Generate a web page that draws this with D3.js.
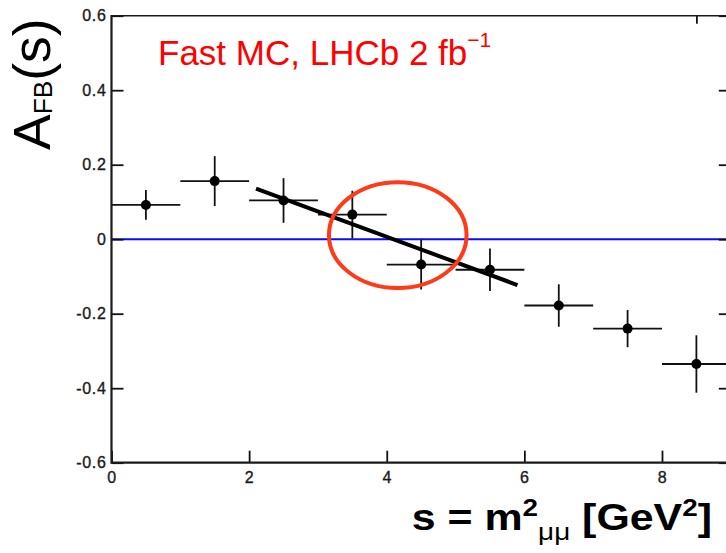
<!DOCTYPE html>
<html>
<head>
<meta charset="utf-8">
<title>AFB(s) fast MC</title>
<script src="https://cdn.jsdelivr.net/npm/d3@7"></script>
<style>
	html, body {
		margin: 0;
		padding: 0;
		background: #fff;
	}
	svg {
		display: block;
		font-family: "Liberation Sans", Arial, Helvetica, sans-serif;
	}
	.tick text {
		font-size: 16px;
		fill: #1a1a1a;
		stroke: #1a1a1a;
		stroke-width: 0.35px;
		letter-spacing: 0.7px;
	}
	.tick line {
		stroke: #111;
		stroke-width: 1.8;
	}
</style>
</head>
<body>
<svg id="chart"></svg>
<script>
// data
const binCenters = [0.5, 1.5, 2.5, 3.5, 4.5, 5.5, 6.5, 7.5, 8.5];
const binHalfWidths = [0.5, 0.5, 0.5, 0.5, 0.5, 0.5, 0.5, 0.5, 0.5];
const afbValues = [0.092, 0.156, 0.104, 0.066, -0.068, -0.082, -0.178, -0.24, -0.335];
const afbErrors = [0.04, 0.067, 0.06, 0.064, 0.067, 0.057, 0.057, 0.05, 0.077];

// straight line fit through the points around the zero crossing
const fitX = [2.1, 5.9];
const fitY = [0.136, -0.123];

// ellipse round the zero crossing: centre and half axes in data units
const zeroMarkX = 4.16;
const zeroMarkY = 0.011;
const zeroMarkRx = 1.0;
const zeroMarkRy = 0.142;

const xMajorTicks = [0, 2, 4, 6, 8];
const xMinorTicks = d3.range(0, 9.01, 0.5);
const yMajorTicks = [-0.6, -0.4, -0.2, 0, 0.2, 0.4, 0.6];
const yMinorTicks = d3.range(-0.6, 0.601, 0.05).map((v) => +v.toFixed(2));


class AfbChart {

	/**
	* constructor function
	* @param {string} chartSelector The selector for the svg-element
	* @param {object} options overrides of the defaults
	* @returns {undefined}
	*/
	constructor(chartSelector, options) {
		let defaults = {
			width: 726,
			height: 553,
			plot: {
				left: 111.5,
				right: 730.8,// frame runs just past the window edge
				top: 15.7,
				bottom: 462.7
			},
			xDomain: [0, 9],
			yDomain: [-0.6, 0.6],
			markerRadius: 5
		};

		this.settings = Object.assign({}, defaults, options);
		this.chart = d3.select(chartSelector);

		this.createChart();
	}


	/**
	* set size of the svg
	* @returns {undefined}
	*/
	_initChart() {
		this.chart.attr('width', this.settings.width)
			.attr('height', this.settings.height);
	};


	/**
	* create the scales
	* @returns {undefined}
	*/
	_createScales() {
		let p = this.settings.plot;

		this.x = d3.scaleLinear()
			.domain(this.settings.xDomain)
			.range([p.left, p.right]);

		this.y = d3.scaleLinear()
			.domain(this.settings.yDomain)
			.range([p.bottom, p.top]);
	};


	/**
	* frame, ticks and tick labels (ticks point inwards, root style)
	* @returns {undefined}
	*/
	_createAxes() {
		let p = this.settings.plot,
			x = this.x,
			y = this.y;

		let yFormat = (d) => d === 0 ? '0' : String(+d.toFixed(1));

		// left axis
		let left = this.chart.append('g')
			.attr('class', 'axis axis--y')
			.attr('transform', 'translate(' + p.left + ',0)');
		left.call(d3.axisLeft(y).tickValues(yMinorTicks).tickSize(-6).tickFormat(''));
		left.call(d3.axisLeft(y).tickValues(yMajorTicks).tickSize(-12).tickPadding(5).tickFormat(yFormat));
		left.selectAll('.domain').remove();

		// right axis, mirrored ticks without labels
		let right = this.chart.append('g')
			.attr('class', 'axis axis--y2')
			.attr('transform', 'translate(' + p.right + ',0)');
		right.call(d3.axisRight(y).tickValues(yMinorTicks).tickSize(-6).tickFormat(''));
		right.call(d3.axisRight(y).tickValues(yMajorTicks).tickSize(-12).tickFormat(''));
		right.selectAll('.domain').remove();

		// bottom axis
		let bottom = this.chart.append('g')
			.attr('class', 'axis axis--x')
			.attr('transform', 'translate(0,' + p.bottom + ')');
		bottom.call(d3.axisBottom(x).tickValues(xMinorTicks).tickSize(-6).tickFormat(''));
		bottom.call(d3.axisBottom(x).tickValues(xMajorTicks).tickSize(-12).tickPadding(9).tickFormat(d3.format('d')));
		bottom.selectAll('.domain').remove();

		// top axis: short ticks only, one long one at 8.5
		let top = this.chart.append('g')
			.attr('class', 'axis axis--x2')
			.attr('transform', 'translate(0,' + p.top + ')');
		top.call(d3.axisTop(x).tickValues(xMinorTicks).tickSize(-3).tickFormat(''));
		top.call(d3.axisTop(x).tickValues([8.5]).tickSize(-8).tickFormat(''));
		top.selectAll('.domain').remove();

		// frame
		let frame = this.chart.append('g').attr('class', 'frame')
			.attr('stroke', '#1a1a1a')
			.attr('fill', 'none');
		frame.append('line')
			.attr('x1', p.left).attr('x2', p.left)
			.attr('y1', p.top - 0.7).attr('y2', p.bottom + 1)
			.attr('stroke-width', 2.2);
		frame.append('line')
			.attr('x1', p.left).attr('x2', p.right)
			.attr('y1', p.bottom).attr('y2', p.bottom)
			.attr('stroke-width', 2.2);
		frame.append('line')
			.attr('x1', p.left).attr('x2', p.right)
			.attr('y1', p.top).attr('y2', p.top)
			.attr('stroke-width', 1.6);
		frame.append('line')
			.attr('x1', p.right).attr('x2', p.right)
			.attr('y1', p.top).attr('y2', p.bottom)
			.attr('stroke-width', 2);
	};


	/**
	* blue zero line
	* @returns {undefined}
	*/
	_addZeroLine() {
		this.chart.append('line')
			.attr('class', 'zero-line')
			.attr('x1', this.x(this.settings.xDomain[0]))
			.attr('x2', this.x(this.settings.xDomain[1]))
			.attr('y1', this.y(0))
			.attr('y2', this.y(0))
			.attr('stroke', '#0a0aff')
			.attr('stroke-width', 2);
	};


	/**
	* points with error bars
	* @returns {undefined}
	*/
	_addPoints() {
		let x = this.x,
			y = this.y;

		let points = binCenters.map((c, i) => {
			return {x: c, dx: binHalfWidths[i], y: afbValues[i], dy: afbErrors[i]};
		});

		let eachPoint = this.chart.append('g')
			.attr('class', 'points')
			.selectAll('.point')
			.data(points)
			.enter()
			.append('g')
			.attr('class', 'point');

		eachPoint.append('line')
			.attr('x1', (d) => x(d.x - d.dx))
			.attr('x2', (d) => x(d.x + d.dx))
			.attr('y1', (d) => y(d.y))
			.attr('y2', (d) => y(d.y))
			.attr('stroke', '#111')
			.attr('stroke-width', 1.8);

		eachPoint.append('line')
			.attr('x1', (d) => x(d.x))
			.attr('x2', (d) => x(d.x))
			.attr('y1', (d) => y(d.y - d.dy))
			.attr('y2', (d) => y(d.y + d.dy))
			.attr('stroke', '#111')
			.attr('stroke-width', 1.8);

		eachPoint.append('circle')
			.attr('cx', (d) => x(d.x))
			.attr('cy', (d) => y(d.y))
			.attr('r', this.settings.markerRadius)
			.attr('fill', '#000');
	};


	/**
	* thick fit line
	* @returns {undefined}
	*/
	_addFit() {
		let line = d3.line()
			.x((d) => this.x(d[0]))
			.y((d) => this.y(d[1]));

		this.chart.append('path')
			.attr('class', 'fit')
			.datum(d3.zip(fitX, fitY))
			.attr('d', line)
			.attr('fill', 'none')
			.attr('stroke', '#000')
			.attr('stroke-width', 4);
	};


	/**
	* red ellipse round the zero crossing
	* @returns {undefined}
	*/
	_addZeroMark() {
		let x = this.x,
			y = this.y;

		this.chart.append('ellipse')
			.attr('class', 'zero-mark')
			.attr('cx', x(zeroMarkX))
			.attr('cy', y(zeroMarkY))
			.attr('rx', x(zeroMarkX + zeroMarkRx) - x(zeroMarkX))
			.attr('ry', y(zeroMarkY) - y(zeroMarkY + zeroMarkRy))
			.attr('fill', 'none')
			.attr('stroke', '#ff3a17')
			.attr('stroke-width', 4);
	};


	/**
	* axis titles and the sample label
	* @returns {undefined}
	*/
	_addLabels() {
		// sample label
		let label = this.chart.append('text')
			.attr('x', 158)
			.attr('y', 65)
			.attr('fill', '#ff0000')
			.style('font-size', '35px')
			.text('Fast MC, LHCb 2 fb');
		label.append('tspan')
			.attr('dy', -18)
			.style('font-size', '21px')
			.text('\u22121');

		// y title
		let yTitle = this.chart.append('text')
			.attr('transform', 'translate(50,150) rotate(-90) scale(1.05,1)')
			.attr('fill', '#000')
			.style('font-size', '51px')
			.text('A');
		yTitle.append('tspan')
			.attr('dy', 2)
			.style('font-size', '25px')
			.text('FB');
		yTitle.append('tspan')
			.attr('dy', -2)
			.text('(s)');

		// x title
		let xTitle = this.chart.append('text')
			.attr('transform', 'translate(712,530) scale(1.16,1)')
			.attr('text-anchor', 'end')
			.attr('fill', '#000')
			.style('font-size', '37px')
			.style('font-weight', 'bold')
			.text('s = m');
		xTitle.append('tspan')
			.attr('dy', -14)
			.style('font-size', '24px')
			.text('2');
		xTitle.append('tspan')
			.attr('dy', 24)
			.style('font-size', '24px')
			.style('font-weight', 'normal')
			.text('\u03bc\u03bc');
		xTitle.append('tspan')
			.attr('dy', -10)
			.text(' [GeV');
		xTitle.append('tspan')
			.attr('dy', -14)
			.style('font-size', '24px')
			.text('2');
		xTitle.append('tspan')
			.attr('dy', 14)
			.text(']');
	};


	/**
	* create the chart
	* @returns {undefined}
	*/
	createChart() {
		this._initChart();
		this._createScales();
		this._addZeroLine();
		this._createAxes();
		this._addPoints();
		this._addFit();
		this._addZeroMark();
		this._addLabels();
	};

}

new AfbChart('#chart');
</script>
</body>
</html>
